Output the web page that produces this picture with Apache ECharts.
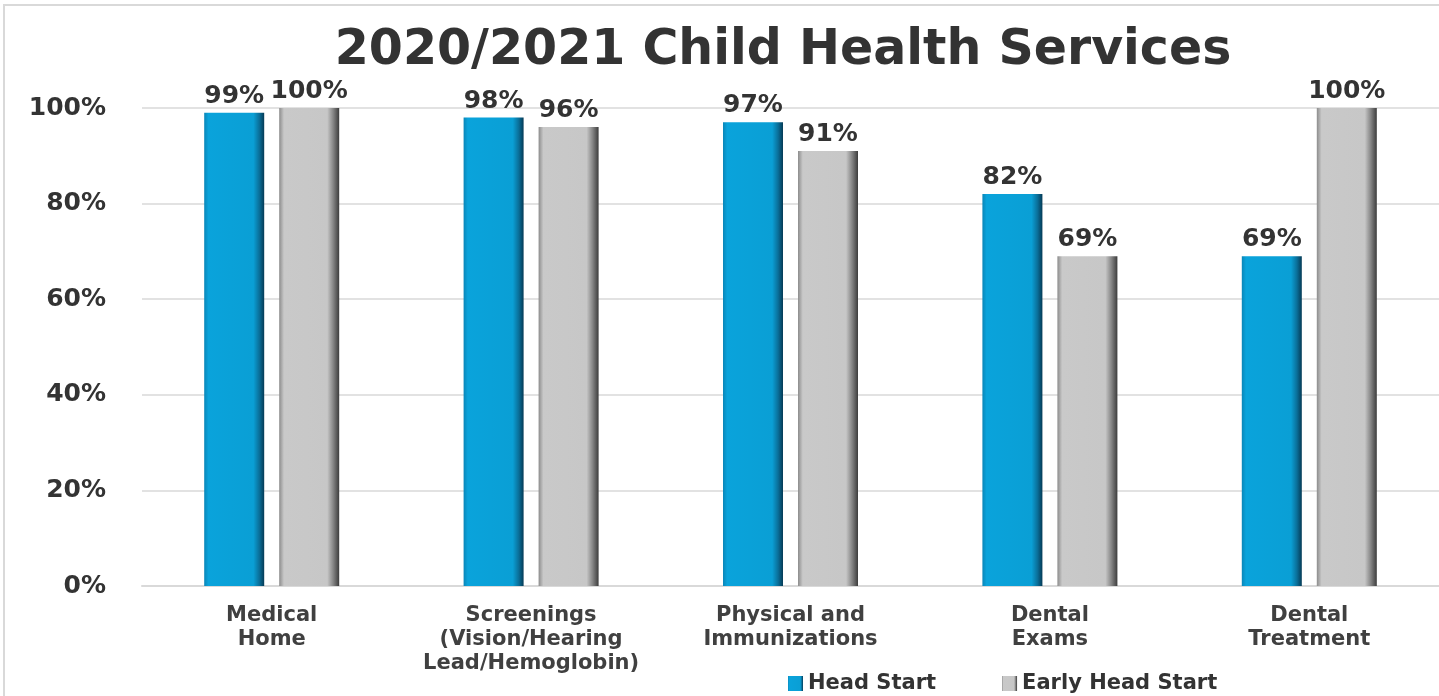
<!DOCTYPE html>
<html>
<head>
<meta charset="utf-8">
<script src="https://cdn.jsdelivr.net/npm/echarts@6/dist/echarts.min.js"></script>
<style>html,body{margin:0;padding:0;background:#fff;}#c{width:1439px;height:696px;}</style>
</head>
<body>
<div id="c"></div>
<script>
const titleText = '2020/2021 Child Health Services';
const categories = ['Medical\nHome', 'Screenings\n(Vision/Hearing\nLead/Hemoglobin)', 'Physical and\nImmunizations', 'Dental\nExams', 'Dental\nTreatment'];
const seriesNames = ['Head Start', 'Early Head Start'];
const headStart = [99, 98, 97, 82, 69];
const earlyHeadStart = [100, 96, 91, 69, 100];
const yTicks = [0, 20, 40, 60, 80, 100];

const chart = echarts.init(document.getElementById('c'));
const blueGrad = new echarts.graphic.LinearGradient(0, 0, 1, 0, [
  {offset: 0, color: '#0a86b8'}, {offset: 0.07, color: '#0aa3db'},
  {offset: 0.82, color: '#0a9fd5'}, {offset: 0.92, color: '#0a6e98'}, {offset: 1, color: '#053a55'}
]);
const grayGrad = new echarts.graphic.LinearGradient(0, 0, 1, 0, [
  {offset: 0, color: '#8c8c8c'}, {offset: 0.08, color: '#c9c9c9'},
  {offset: 0.8, color: '#c7c7c7'}, {offset: 0.9, color: '#858585'}, {offset: 1, color: '#3c3c3c'}
]);
const labelStyle = {show: true, position: 'top', distance: 4, formatter: p => p.value + '%', color: '#333', fontSize: 25, fontWeight: 'bold', fontFamily: 'DejaVu Sans'};
chart.setOption({
  animation: false,
  backgroundColor: '#fff',
  title: {text: titleText, left: 778, textAlign: 'center', top: 22, textStyle: {fontSize: 49, fontWeight: 'bold', color: '#333', fontFamily: 'DejaVu Sans'}},
  graphic: [{type: 'rect', shape: {x: 4, y: 5, width: 1500, height: 800}, style: {fill: null, stroke: '#d9d9d9', lineWidth: 2}, silent: true}],
  legend: {data: seriesNames, left: 783, bottom: -3, icon: 'rect', itemWidth: 15, itemHeight: 15, itemGap: 66,
    textStyle: {fontSize: 21, fontWeight: 'bold', color: '#333', fontFamily: 'DejaVu Sans'}},
  grid: {left: 142, width: 1307, top: 108, bottom: 110},
  xAxis: {type: 'category', data: categories,
    axisLine: {lineStyle: {color: '#d9d9d9', width: 2}}, axisTick: {show: false},
    axisLabel: {interval: 0, margin: 18, color: '#404040', fontSize: 21, fontWeight: 'bold', lineHeight: 24, fontFamily: 'DejaVu Sans'}},
  yAxis: {type: 'value', min: 0, max: 100, interval: 20,
    axisLine: {show: false}, axisTick: {show: false},
    splitLine: {lineStyle: {color: '#d9d9d9', width: 1.5}},
    axisLabel: {margin: 36, color: '#333', fontSize: 25, fontWeight: 'bold', fontFamily: 'DejaVu Sans',
      formatter: v => yTicks.includes(v) ? v + '%' : ''}},
  series: [
    {name: seriesNames[0], type: 'bar', data: headStart, barWidth: 60, barGap: '25%', itemStyle: {color: blueGrad}, label: labelStyle},
    {name: seriesNames[1], type: 'bar', data: earlyHeadStart, barWidth: 60, itemStyle: {color: grayGrad}, label: labelStyle}
  ]
});
</script>
</body>
</html>
